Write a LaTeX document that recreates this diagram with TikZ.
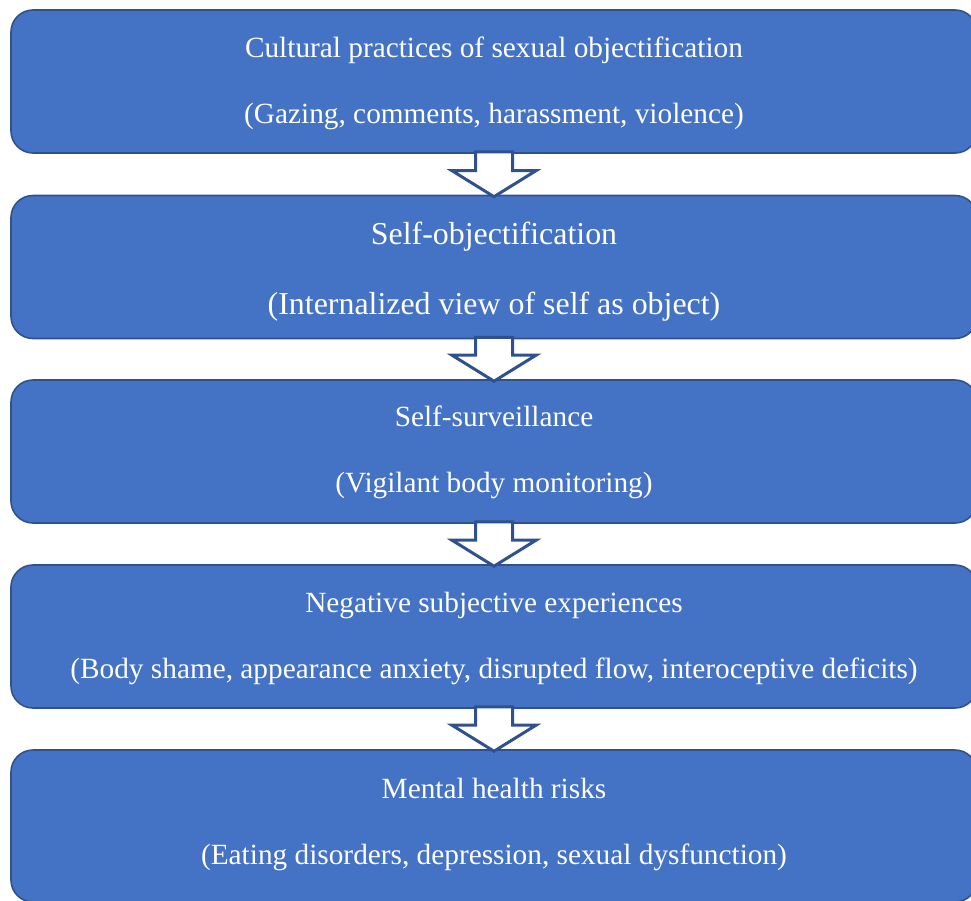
\documentclass[tikz,border=0pt]{standalone}
\usepackage{fontspec}
\setmainfont{Liberation Serif}
\usetikzlibrary{calc}

\definecolor{boxfill}{HTML}{4472C4}
\definecolor{boxline}{HTML}{2F528F}

\tikzset{
  stage/.style={draw=boxline, line width=1.6pt, fill=boxfill, rounded corners=22pt,
    minimum width=966pt, minimum height=143pt, inner sep=0pt},
  stagetext/.style={text=white, align=center, inner sep=0pt,
    font=\fontsize{29.3}{66}\selectfont},
  bigtext/.style={stagetext, font=\fontsize{31.9}{70}\selectfont},
  flowarrow/.style={draw=boxline, fill=white, line width=3pt, line join=miter}
}

% hollow block arrow running from the bottom of #1 to the top of #2
\newcommand{\flowarrow}[2]{%
  \draw[flowarrow] let \p1=(#1.south), \p2=(#2.north) in
    (\x1-18.5pt,\y1+2pt) -- (\x1+18.5pt,\y1+2pt) -- (\x1+18.5pt,\y2+24pt) --
    (\x1+42pt,\y2+24pt) -- (\x1,\y2-2pt) -- (\x1-42pt,\y2+24pt) --
    (\x1-18.5pt,\y2+24pt) -- cycle;}

\begin{document}
\begin{tikzpicture}[x=1pt,y=1pt]
  \clip (0,0) rectangle (971,-900);

  \node[stage, label={[stagetext, yshift=-2pt]center:{Cultural practices of sexual objectification\\(Gazing, comments, harassment, violence)}}]
    (cult) at (494,-81.5) {};
  \node[stage, label={[bigtext, yshift=-5pt]center:{Self-objectification\\(Internalized view of self as object)}}]
    (selfobj) at (494,-267) {};
  \node[stage, label={[stagetext, yshift=-1pt]center:{Self-surveillance\\(Vigilant body monitoring)}}]
    (surv) at (494,-451.5) {};
  \node[stage, label={[stagetext, yshift=-2pt]center:{Negative subjective experiences\\(Body shame, appearance anxiety, disrupted flow, interoceptive deficits)}}]
    (neg) at (494,-636.5) {};
  \node[stage, minimum height=152pt, label={[stagetext, yshift=2pt]center:{Mental health risks\\(Eating disorders, depression, sexual dysfunction)}}]
    (risk) at (494,-826) {};

  \flowarrow{cult}{selfobj}
  \flowarrow{selfobj}{surv}
  \flowarrow{surv}{neg}
  \flowarrow{neg}{risk}
\end{tikzpicture}
\end{document}
